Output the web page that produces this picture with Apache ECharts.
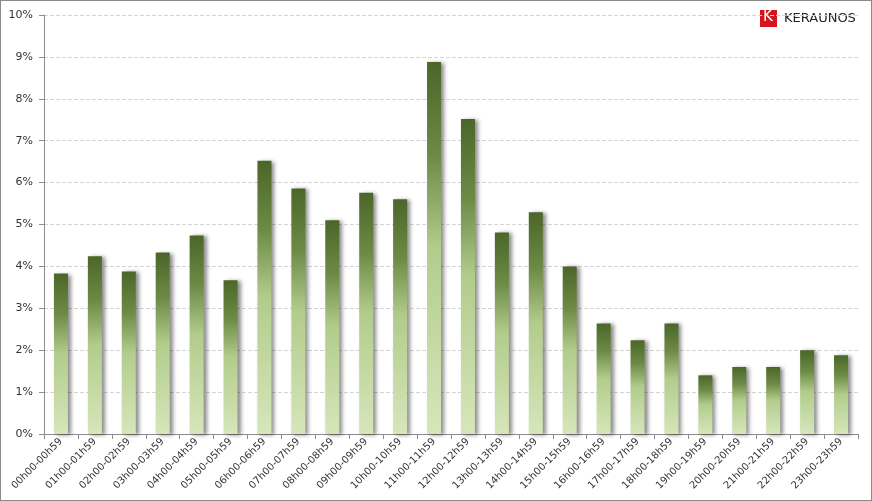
<!DOCTYPE html>
<html><head><meta charset="utf-8">
<script src="https://cdn.jsdelivr.net/npm/echarts@6/dist/echarts.min.js"></script>
<style>html,body{margin:0;padding:0;background:#fff}#c{width:872px;height:501px;box-sizing:border-box;border:1px solid #8a8a8a}</style>
</head><body><div id="c"></div>
<script>
const categories = ["00h00-00h59","01h00-01h59","02h00-02h59","03h00-03h59","04h00-04h59","05h00-05h59","06h00-06h59","07h00-07h59","08h00-08h59","09h00-09h59","10h00-10h59","11h00-11h59","12h00-12h59","13h00-13h59","14h00-14h59","15h00-15h59","16h00-16h59","17h00-17h59","18h00-18h59","19h00-19h59","20h00-20h59","21h00-21h59","22h00-22h59","23h00-23h59"];
const values = [3.83,4.24,3.88,4.33,4.74,3.67,6.52,5.86,5.10,5.76,5.60,8.88,7.52,4.81,5.29,4.00,2.64,2.24,2.64,1.40,1.60,1.60,2.00,1.88];
const yTicks = {min:0, max:10, interval:1};
const logoText = "KERAUNOS";

const chart = echarts.init(document.getElementById('c'), null, {renderer:'canvas'});
chart.setOption({
  animation:false,
  textStyle:{fontFamily:'DejaVu Sans'},
  grid:{left:43, right:13, top:14, bottom:66},
  xAxis:{type:'category', data:categories,
    axisLine:{lineStyle:{color:'#8c8c8c'}},
    axisTick:{show:true, length:5, lineStyle:{color:'#8c8c8c'}},
    axisLabel:{rotate:45, fontSize:10, color:'#333', margin:6, interval:0}},
  yAxis:{type:'value', min:yTicks.min, max:yTicks.max, interval:yTicks.interval,
    axisLine:{show:true, lineStyle:{color:'#8c8c8c'}},
    axisTick:{show:true, length:5, lineStyle:{color:'#8c8c8c'}},
    axisLabel:{formatter:'{value}%', fontSize:11, color:'#333', margin:11},
    splitLine:{lineStyle:{color:'#d4d4d4', type:'dashed'}}},
  series:[{type:'bar', data:values, barWidth:14,
    itemStyle:{
      color:new echarts.graphic.LinearGradient(0,0,0,1,[
        {offset:0,color:'#4b6629'},
        {offset:0.25,color:'#6d8a45'},
        {offset:0.5,color:'#b2cc8c'},
        {offset:1,color:'#d6e6ba'}]),
      shadowColor:'rgba(0,0,0,0.45)', shadowBlur:4, shadowOffsetX:3, shadowOffsetY:1}
  }],
  graphic:[
    {type:'rect', left:759, top:9, shape:{width:17,height:17}, style:{fill:'#d4161c'}},
    {type:'text', left:762, top:9, style:{text:'K', fill:'#fff', font:'15px "DejaVu Sans"'}},
    {type:'text', left:783, top:11, style:{text:logoText, fill:'#222', font:'13px "DejaVu Sans"'}}
  ]
});
</script></body></html>
